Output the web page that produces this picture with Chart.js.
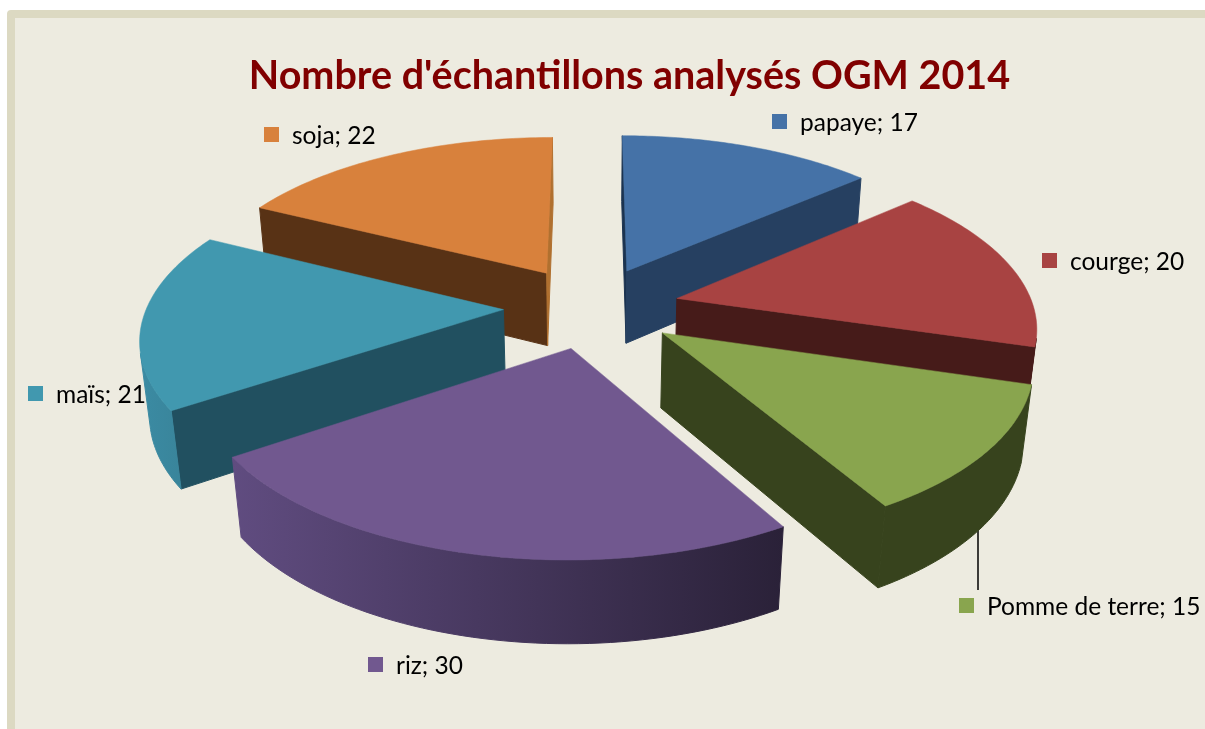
<!DOCTYPE html>
<html>
<head>
<meta charset="utf-8">
<title>Nombre d'échantillons analysés OGM 2014</title>
<script src="https://cdn.jsdelivr.net/npm/chart.js@4"></script>
<style>
  html, body { margin: 0; padding: 0; background: #fff; overflow: hidden; }
  #frame {
    position: absolute; left: 7px; top: 10px; right: -10px; bottom: -10px;
    background: #edebe0; border: 8px solid #dcd9c2; border-radius: 4px;
  }
  #pie { position: absolute; left: 0; top: 0; }
</style>
</head>
<body>
<div id="frame"></div>
<canvas id="pie" width="1205" height="729"></canvas>
<script>
const categories = ['papaye', 'courge', 'Pomme de terre', 'riz', 'maïs', 'soja'];
const sampleCounts = [17, 20, 15, 30, 21, 22];
const chartTitle = "Nombre d'échantillons analysés OGM 2014";

// colours per slice: top face, start wall, end wall, outer wall left/right
const topColors = ['#4572A7', '#A84342', '#89A54E', '#71588F', '#4198AF', '#D8813C'];
const startWallColors = ['#1b3350', '#461b19', '#37431d', '#5a4670', '#215060', '#583215'];
const endWallColors = ['#264061', '#461b19', '#37431d', '#5a4670', '#215060', '#b0702f'];
const outerLeftColors = ['#264061', '#461b19', '#37431d', '#604c80', '#3b8ba3', '#583215'];
const outerRightColors = ['#264061', '#461b19', '#37431d', '#2a2138', '#388095', '#583215'];

// label swatch top-left corners
const labelSpots = [[772, 114], [1042, 253], [959, 598], [368, 657], [28, 386], [264, 127]];

// back to front
const paintOrder = [5, 0, 1, 4, 2, 3];

// camera fitted by eye to the tilted pie
const view = { cx: 591.5, cy: 307, ax: 356.5, by: 165.7, wall: 75.5, persp: 0.151, sink: 0.022 };
const explode = 0.247;

function project(x, y, z) {
  const s = 1 / (1 - view.persp * y + view.sink * z);
  return [view.cx + x * view.ax * s, view.cy + (y * view.by + z * view.wall) * s];
}

function fillPoly(ctx, pts, style, seam) {
  ctx.beginPath();
  pts.forEach((p, i) => (i ? ctx.lineTo(p[0], p[1]) : ctx.moveTo(p[0], p[1])));
  ctx.closePath();
  ctx.fillStyle = style;
  ctx.fill();
  // thin stroke hides the seams between neighbouring faces
  ctx.strokeStyle = style;
  ctx.lineWidth = seam;
  ctx.lineJoin = 'round';
  ctx.stroke();
}

// shoelace, y down: negative means visually counter clockwise
function area(pts) {
  let sum = 0;
  pts.forEach((p, i) => {
    const q = pts[(i + 1) % pts.length];
    sum += p[0] * q[1] - q[0] * p[1];
  });
  return sum;
}

function drawSlice(ctx, arc, i) {
  const mid = (arc.startAngle + arc.endAngle) / 2;
  const ox = explode * Math.cos(mid);
  const oy = explode * Math.sin(mid);
  const steps = 60;
  const rim = [];
  for (let k = 0; k <= steps; k++) {
    const a = arc.startAngle + (arc.endAngle - arc.startAngle) * k / steps;
    rim.push([ox + Math.cos(a), oy + Math.sin(a)]);
  }
  const top = rim.map(p => project(p[0], p[1], 0));
  const low = rim.map(p => project(p[0], p[1], 1));
  const apexTop = project(ox, oy, 0);
  const apexLow = project(ox, oy, 1);

  const startWall = [apexTop, top[0], low[0], apexLow];
  if (area(startWall) < 0) fillPoly(ctx, startWall, startWallColors[i], 1);
  const endWall = [apexTop, top[steps], low[steps], apexLow];
  if (area(endWall) > 0) fillPoly(ctx, endWall, endWallColors[i], 1);

  // outer wall, only the part turned towards the viewer
  const xs = top.map(p => p[0]);
  const grad = ctx.createLinearGradient(Math.min(...xs), 0, Math.max(...xs), 0);
  grad.addColorStop(0, outerLeftColors[i]);
  grad.addColorStop(1, outerRightColors[i]);
  let runTop = [];
  let runLow = [];
  const flush = () => {
    if (runTop.length > 1) fillPoly(ctx, runTop.concat(runLow.slice().reverse()), grad, 1);
    runTop = [];
    runLow = [];
  };
  for (let k = 0; k < steps; k++) {
    if (area([top[k], top[k + 1], low[k + 1], low[k]]) < 0) {
      if (!runTop.length) { runTop.push(top[k]); runLow.push(low[k]); }
      runTop.push(top[k + 1]);
      runLow.push(low[k + 1]);
    } else {
      flush();
    }
  }
  flush();

  fillPoly(ctx, [apexTop].concat(top), topColors[i], 0.5);
}

const tiltedPie = {
  id: 'tiltedPie',
  beforeDatasetDraw(chart) {
    const ctx = chart.ctx;
    const arcs = chart.getDatasetMeta(0).data;

    // leader line of the Pomme de terre label, it runs behind the slice
    ctx.save();
    ctx.strokeStyle = '#000';
    ctx.lineWidth = 1.5;
    ctx.beginPath();
    ctx.moveTo(978, 520);
    ctx.lineTo(978, 590);
    ctx.stroke();

    paintOrder.forEach(i => drawSlice(ctx, arcs[i], i));

    ctx.font = '24.5px Lato';
    ctx.textBaseline = 'middle';
    categories.forEach((name, i) => {
      const [x, y] = labelSpots[i];
      ctx.fillStyle = topColors[i];
      ctx.fillRect(x, y, 15, 15);
      ctx.fillStyle = '#000';
      ctx.fillText(`${name}; ${sampleCounts[i]}`, x + 28, y + 9.5);
    });
    ctx.restore();
    return false;
  }
};

new Chart(document.getElementById('pie'), {
  type: 'pie',
  data: {
    labels: categories,
    datasets: [{ data: sampleCounts, backgroundColor: topColors, borderWidth: 0 }]
  },
  options: {
    responsive: false,
    animation: false,
    layout: { padding: { left: 54 } },
    plugins: {
      legend: { display: false },
      tooltip: { enabled: false },
      title: {
        display: true,
        text: chartTitle,
        color: '#800000',
        font: { family: 'Lato', size: 39.5, weight: 'bold' },
        padding: { top: 53, bottom: 0 }
      }
    }
  },
  plugins: [tiltedPie]
});
</script>
</body>
</html>
